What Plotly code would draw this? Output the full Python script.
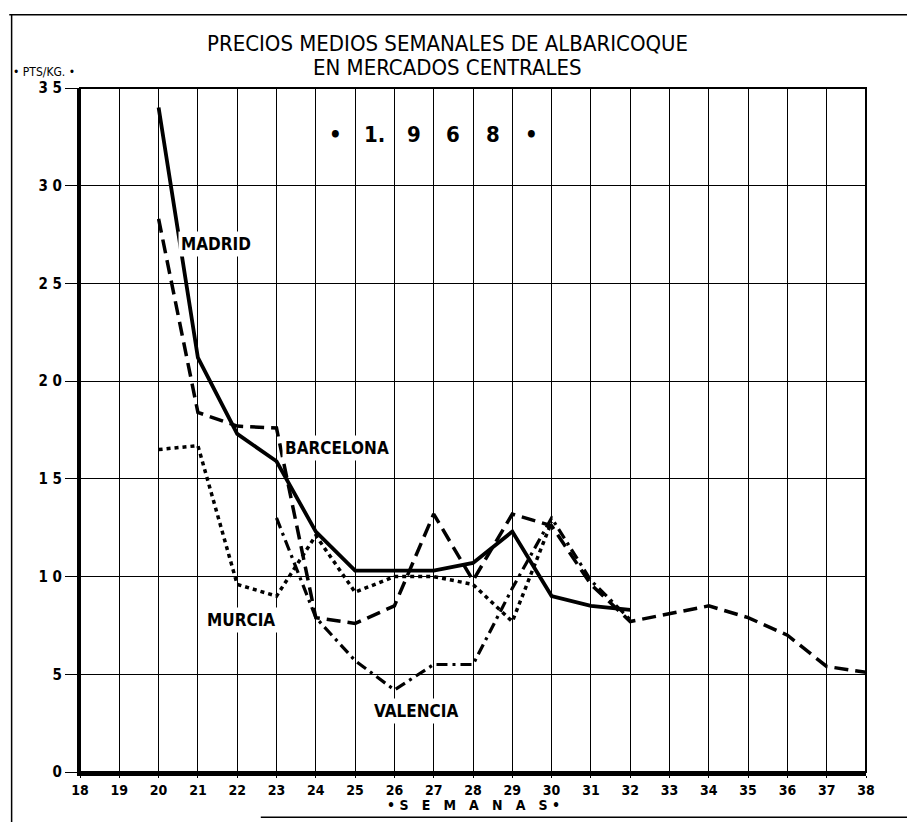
import plotly.graph_objects as go

weeks_madrid = [20, 21, 22, 23, 24, 25, 26, 27, 28, 29, 30, 31, 32]
madrid = [34.0, 21.2, 17.3, 15.9, 12.3, 10.3, 10.3, 10.3, 10.7, 12.3, 9.0, 8.5, 8.3]

weeks_barcelona = [20, 21, 22, 23, 24, 25, 26, 27, 28, 29, 30, 31, 32, 33, 34, 35, 36, 37, 38]
barcelona = [28.3, 18.4, 17.7, 17.6, 7.9, 7.6, 8.5, 13.2, 9.8, 13.2, 12.6, 9.6, 7.7, 8.1, 8.5, 7.9, 7.0, 5.4, 5.1]

weeks_murcia = [20, 21, 22, 23, 24, 25, 26, 27, 28, 29, 30]
murcia = [16.5, 16.7, 9.6, 9.0, 12.1, 9.2, 10.0, 10.0, 9.6, 7.7, 12.8]

weeks_valencia = [23, 24, 25, 26, 27, 28, 29, 30, 31, 32]
valencia = [13.0, 7.9, 5.7, 4.2, 5.5, 5.5, 9.4, 13.0, 9.8, 7.8]

x_ticks = list(range(18, 39))
y_ticks = [0, 5, 10, 15, 20, 25, 30, 35]
y_tick_text = ["0", "5", "1 0", "1 5", "2 0", "2 5", "3 0", "3 5"]

title_lines = ["PRECIOS MEDIOS SEMANALES DE ALBARICOQUE", "EN MERCADOS CENTRALES"]

FONT = "Liberation Sans Narrow, DejaVu Sans Condensed, Arial Narrow, sans-serif"

fig = go.Figure()
fig.add_trace(go.Scatter(x=weeks_madrid, y=madrid, mode="lines", name="MADRID",
                         line=dict(color="black", width=3.8, dash="solid")))
fig.add_trace(go.Scatter(x=weeks_barcelona, y=barcelona, mode="lines", name="BARCELONA",
                         line=dict(color="black", width=3.5, dash="14px,7px")))
fig.add_trace(go.Scatter(x=weeks_murcia, y=murcia, mode="lines", name="MURCIA",
                         line=dict(color="black", width=3.5, dash="4px,4px")))
fig.add_trace(go.Scatter(x=weeks_valencia, y=valencia, mode="lines", name="VALENCIA",
                         line=dict(color="black", width=3.2, dash="11px,5px,3px,5px")))

labels = [("MADRID", 21.45, 27.0), ("BARCELONA", 24.55, 16.6),
          ("MURCIA", 22.1, 7.8), ("VALENCIA", 26.55, 3.1)]
for txt, x, y in labels:
    fig.add_annotation(x=x, y=y, text="<b>" + txt + "</b>", showarrow=False, bgcolor="white",
                       font=dict(family=FONT, size=17, color="black"), borderpad=2)

year_chars = ["•", "1.", "9", "6", "8", "•"]
year_pos = [24.5, 25.5, 26.5, 27.5, 28.5, 29.5]
for ch, x in zip(year_chars, year_pos):
    fig.add_annotation(x=x, y=32.6, text="<b>" + ch + "</b>", showarrow=False,
                       font=dict(family=FONT, size=22, color="black"))

for line_txt, ypos in zip(title_lines, [1.0645, 1.0295]):
    fig.add_annotation(xref="paper", yref="paper", x=0.467, y=ypos, yanchor="middle",
                       text=line_txt, showarrow=False, align="center", borderpad=0,
                       font=dict(family=FONT, size=22, color="black"))
fig.add_annotation(xref="paper", yref="paper", x=-0.088, y=1.01, xanchor="left", yanchor="bottom",
                   text="• PTS/KG. •", showarrow=False,
                   font=dict(family=FONT, size=12, color="black"))
fig.add_annotation(xref="paper", yref="paper", x=0.5, y=-0.048, yanchor="middle",
                   text="<b>• S &nbsp; E &nbsp; M &nbsp; A &nbsp; N &nbsp; A &nbsp; S •</b>", showarrow=False,
                   font=dict(family=FONT, size=14, color="black"))

# outer frame of the sheet
fig.add_shape(type="line", xref="paper", yref="paper", x0=-0.087, x1=-0.087, y0=1.107, y1=-0.08,
              line=dict(color="black", width=1.5))
fig.add_shape(type="line", xref="paper", yref="paper", x0=-0.09, x1=1.07, y0=1.107, y1=1.107,
              line=dict(color="black", width=1.5))
fig.add_shape(type="line", xref="paper", yref="paper", x0=0.23, x1=1.07, y0=-0.066, y1=-0.066,
              line=dict(color="black", width=1.5))
# plot frame
fig.add_shape(type="rect", xref="paper", yref="paper", x0=0, x1=1, y0=0, y1=1,
              line=dict(color="black", width=2))

fig.update_xaxes(range=[18, 38], tickmode="array", tickvals=x_ticks,
                 ticktext=[str(v) for v in x_ticks],
                 showgrid=True, gridcolor="black", gridwidth=1,
                 showline=True, linecolor="black", linewidth=4,
                 ticks="outside", ticklen=2, tickcolor="black",
                 tickfont=dict(family=FONT, size=14, color="black", weight="bold"), zeroline=False)
fig.update_yaxes(range=[0, 35], tickmode="array", tickvals=y_ticks, ticktext=y_tick_text,
                 showgrid=True, gridcolor="black", gridwidth=1,
                 showline=True, linecolor="black", linewidth=3,
                 ticks="outside", ticklen=12, tickcolor="black",
                 tickfont=dict(family=FONT, size=15, color="black", weight="bold"), zeroline=False)

fig.update_layout(width=899, height=814, showlegend=False,
                  paper_bgcolor="white", plot_bgcolor="white",
                  margin=dict(l=72, r=41, t=80, b=50))

fig.write_html("out.html")
